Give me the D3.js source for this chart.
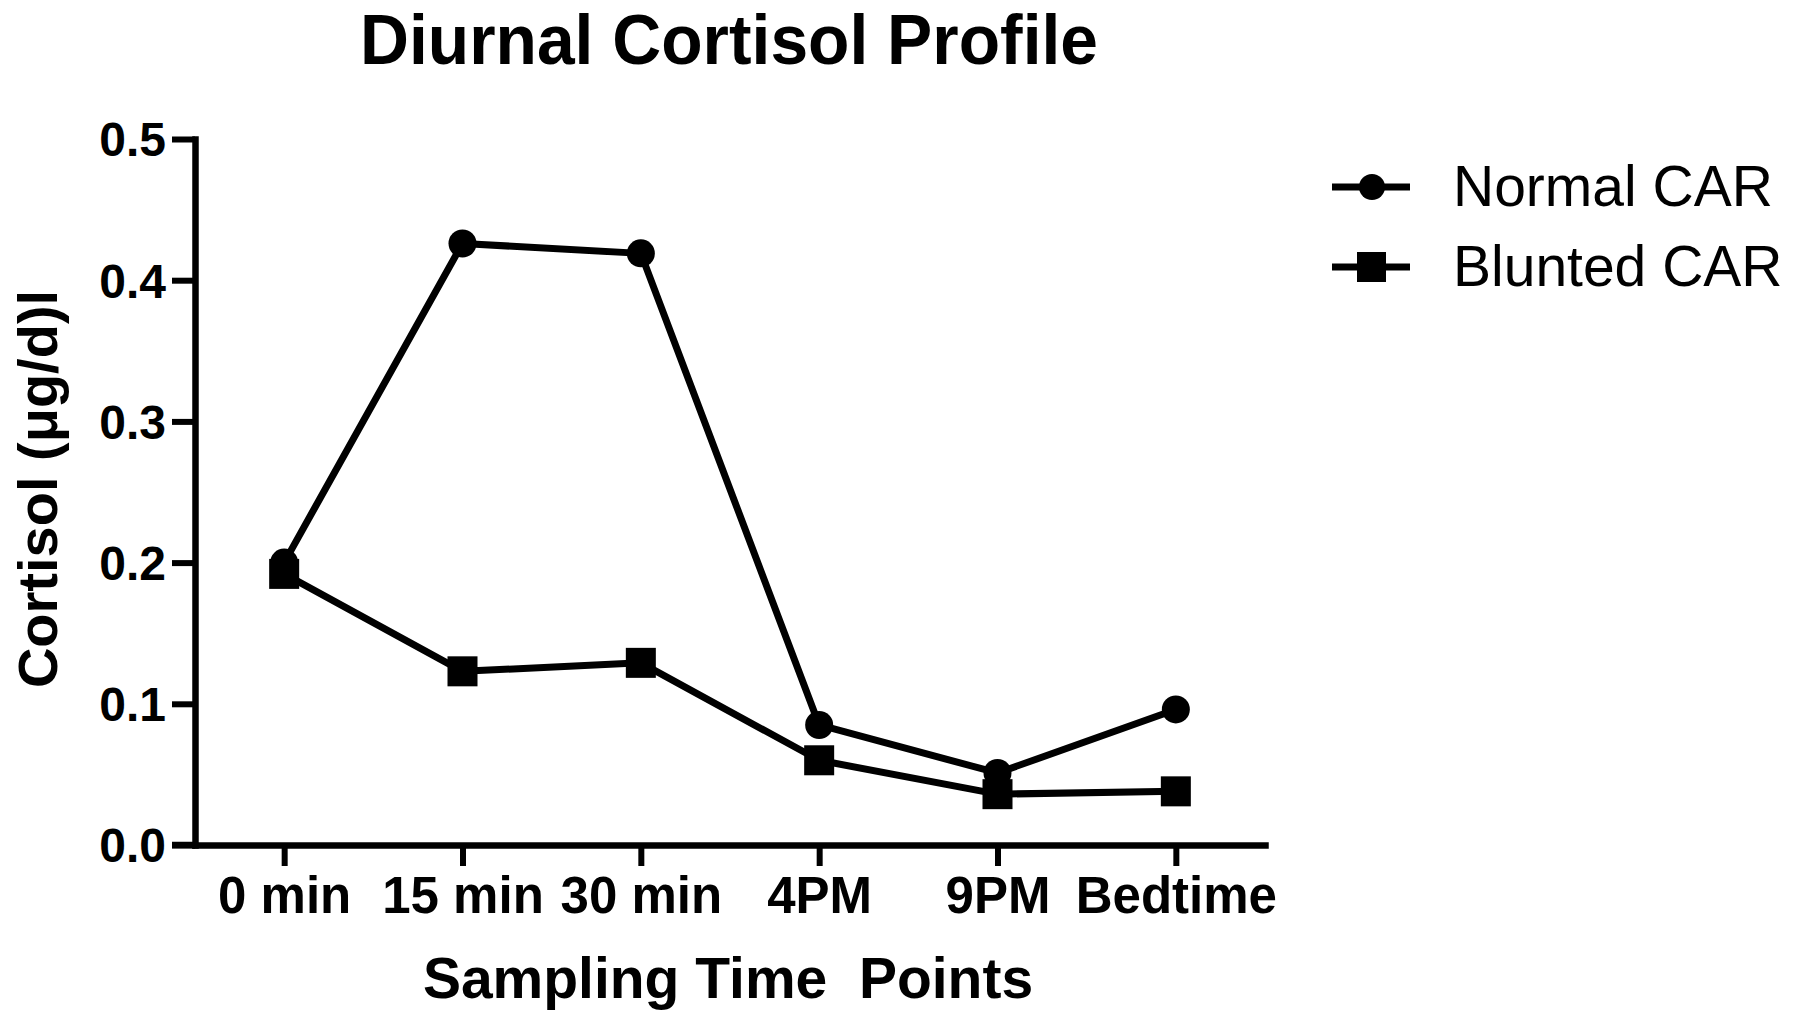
<!DOCTYPE html>
<html>
<head>
<meta charset="utf-8">
<script src="https://cdn.jsdelivr.net/npm/d3@7"></script>
<style>
    body { margin: 0; background: #fff; }
    text { font-family: "Liberation Sans", Arial, sans-serif; fill: #000; }
</style>
</head>
<body>
<div id="chart"></div>
<script>
// values
const categories = ["0 min", "15 min", "30 min", "4PM", "9PM", "Bedtime"];
const normalCAR = [0.200, 0.426, 0.419, 0.085, 0.051, 0.096];
const bluntedCAR = [0.192, 0.123, 0.129, 0.060, 0.036, 0.038];
const yTicks = [0.0, 0.1, 0.2, 0.3, 0.4, 0.5];
const seriesNames = ["Normal CAR", "Blunted CAR"];

let width = 1800, height = 1022;

let svg = d3.select("#chart").append("svg")
    .attr("width", width)
    .attr("height", height);

let x = d3.scalePoint()
    .domain(categories)
    .range([195, 1265])
    .padding(0.5);

let y = d3.scaleLinear()
    .domain([0, 0.5])
    .range([845, 139]);

// title
svg.append("text")
    .attr("x", 729)
    .attr("y", 64)
    .attr("text-anchor", "middle")
    .style("font-size", "70px")
    .style("font-weight", "bold")
    .attr("textLength", 738)
    .attr("lengthAdjust", "spacingAndGlyphs")
    .text("Diurnal Cortisol Profile");

// y axis
let yAxis = svg.append("g")
    .attr("transform", "translate(195,0)")
    .call(d3.axisLeft(y)
        .tickValues(yTicks)
        .tickFormat(d3.format(".1f"))
        .tickSize(23)
        .tickSizeOuter(0)
        .tickPadding(6));

// x axis
let xAxis = svg.append("g")
    .attr("transform", "translate(0,845)")
    .call(d3.axisBottom(x)
        .tickSize(21)
        .tickSizeOuter(0));

[yAxis, xAxis].forEach((g) => {
    g.select(".domain")
        .attr("stroke", "#000")
        .attr("stroke-width", 6.5)
        .attr("stroke-linecap", "square");
    g.selectAll(".tick line")
        .attr("stroke", "#000")
        .attr("stroke-width", 6);
    g.selectAll(".tick text")
        .attr("fill", "#000")
        .style("font-family", "'Liberation Sans', Arial, sans-serif")
        .style("font-weight", "bold");
});

yAxis.selectAll(".tick text")
    .style("font-size", "48px")
    .attr("dy", "0.35em");

xAxis.selectAll(".tick text")
    .style("font-size", "51px")
    .attr("y", 68)
    .attr("dy", 0);

// x axis extends left to meet the zero tick
xAxis.append("line")
    .attr("x1", 172)
    .attr("x2", 195)
    .attr("y1", 0)
    .attr("y2", 0)
    .attr("stroke", "#000")
    .attr("stroke-width", 6.5);

// axis titles
svg.append("text")
    .attr("x", 728)
    .attr("y", 998)
    .attr("text-anchor", "middle")
    .style("font-size", "57px")
    .style("font-weight", "bold")
    .style("white-space", "pre")
    .text("Sampling Time  Points");

svg.append("text")
    .attr("transform", "translate(57,489) rotate(-90)")
    .attr("text-anchor", "middle")
    .style("font-size", "56px")
    .style("font-weight", "bold")
    .text("Cortisol (\u03bcg/d)l");

// lines and markers
let line = d3.line()
    .x((d, i) => x(categories[i]))
    .y((d) => y(d));

let drawCircles = (g, data) => {
    g.selectAll("circle")
        .data(data)
        .enter().append("circle")
        .attr("cx", (d, i) => x(categories[i]))
        .attr("cy", (d) => y(d))
        .attr("r", 14)
        .attr("fill", "#000");
};

let drawSquares = (g, data) => {
    g.selectAll("rect")
        .data(data)
        .enter().append("rect")
        .attr("x", (d, i) => x(categories[i]) - 15)
        .attr("y", (d) => y(d) - 15)
        .attr("width", 30)
        .attr("height", 30)
        .attr("fill", "#000");
};

let normalG = svg.append("g");
normalG.append("path")
    .datum(normalCAR)
    .attr("d", line)
    .attr("fill", "none")
    .attr("stroke", "#000")
    .attr("stroke-width", 7)
    .attr("stroke-linejoin", "round");
drawCircles(normalG, normalCAR);

let bluntedG = svg.append("g");
bluntedG.append("path")
    .datum(bluntedCAR)
    .attr("d", line)
    .attr("fill", "none")
    .attr("stroke", "#000")
    .attr("stroke-width", 7)
    .attr("stroke-linejoin", "round");
drawSquares(bluntedG, bluntedCAR);

// legend
let legendY = [187, 267];
let legend = svg.append("g");

seriesNames.forEach((name, i) => {
    let row = legend.append("g")
        .attr("transform", "translate(0," + legendY[i] + ")");
    row.append("line")
        .attr("x1", 1332)
        .attr("x2", 1410)
        .attr("stroke", "#000")
        .attr("stroke-width", 7);
    if (i === 0) {
        row.append("circle")
            .attr("cx", 1372)
            .attr("r", 13)
            .attr("fill", "#000");
    } else {
        row.append("rect")
            .attr("x", 1357)
            .attr("y", -15)
            .attr("width", 29)
            .attr("height", 30)
            .attr("fill", "#000");
    }
    row.append("text")
        .attr("x", 1453)
        .attr("y", 19)
        .style("font-size", "57px")
        .text(name);
});
</script>
</body>
</html>
